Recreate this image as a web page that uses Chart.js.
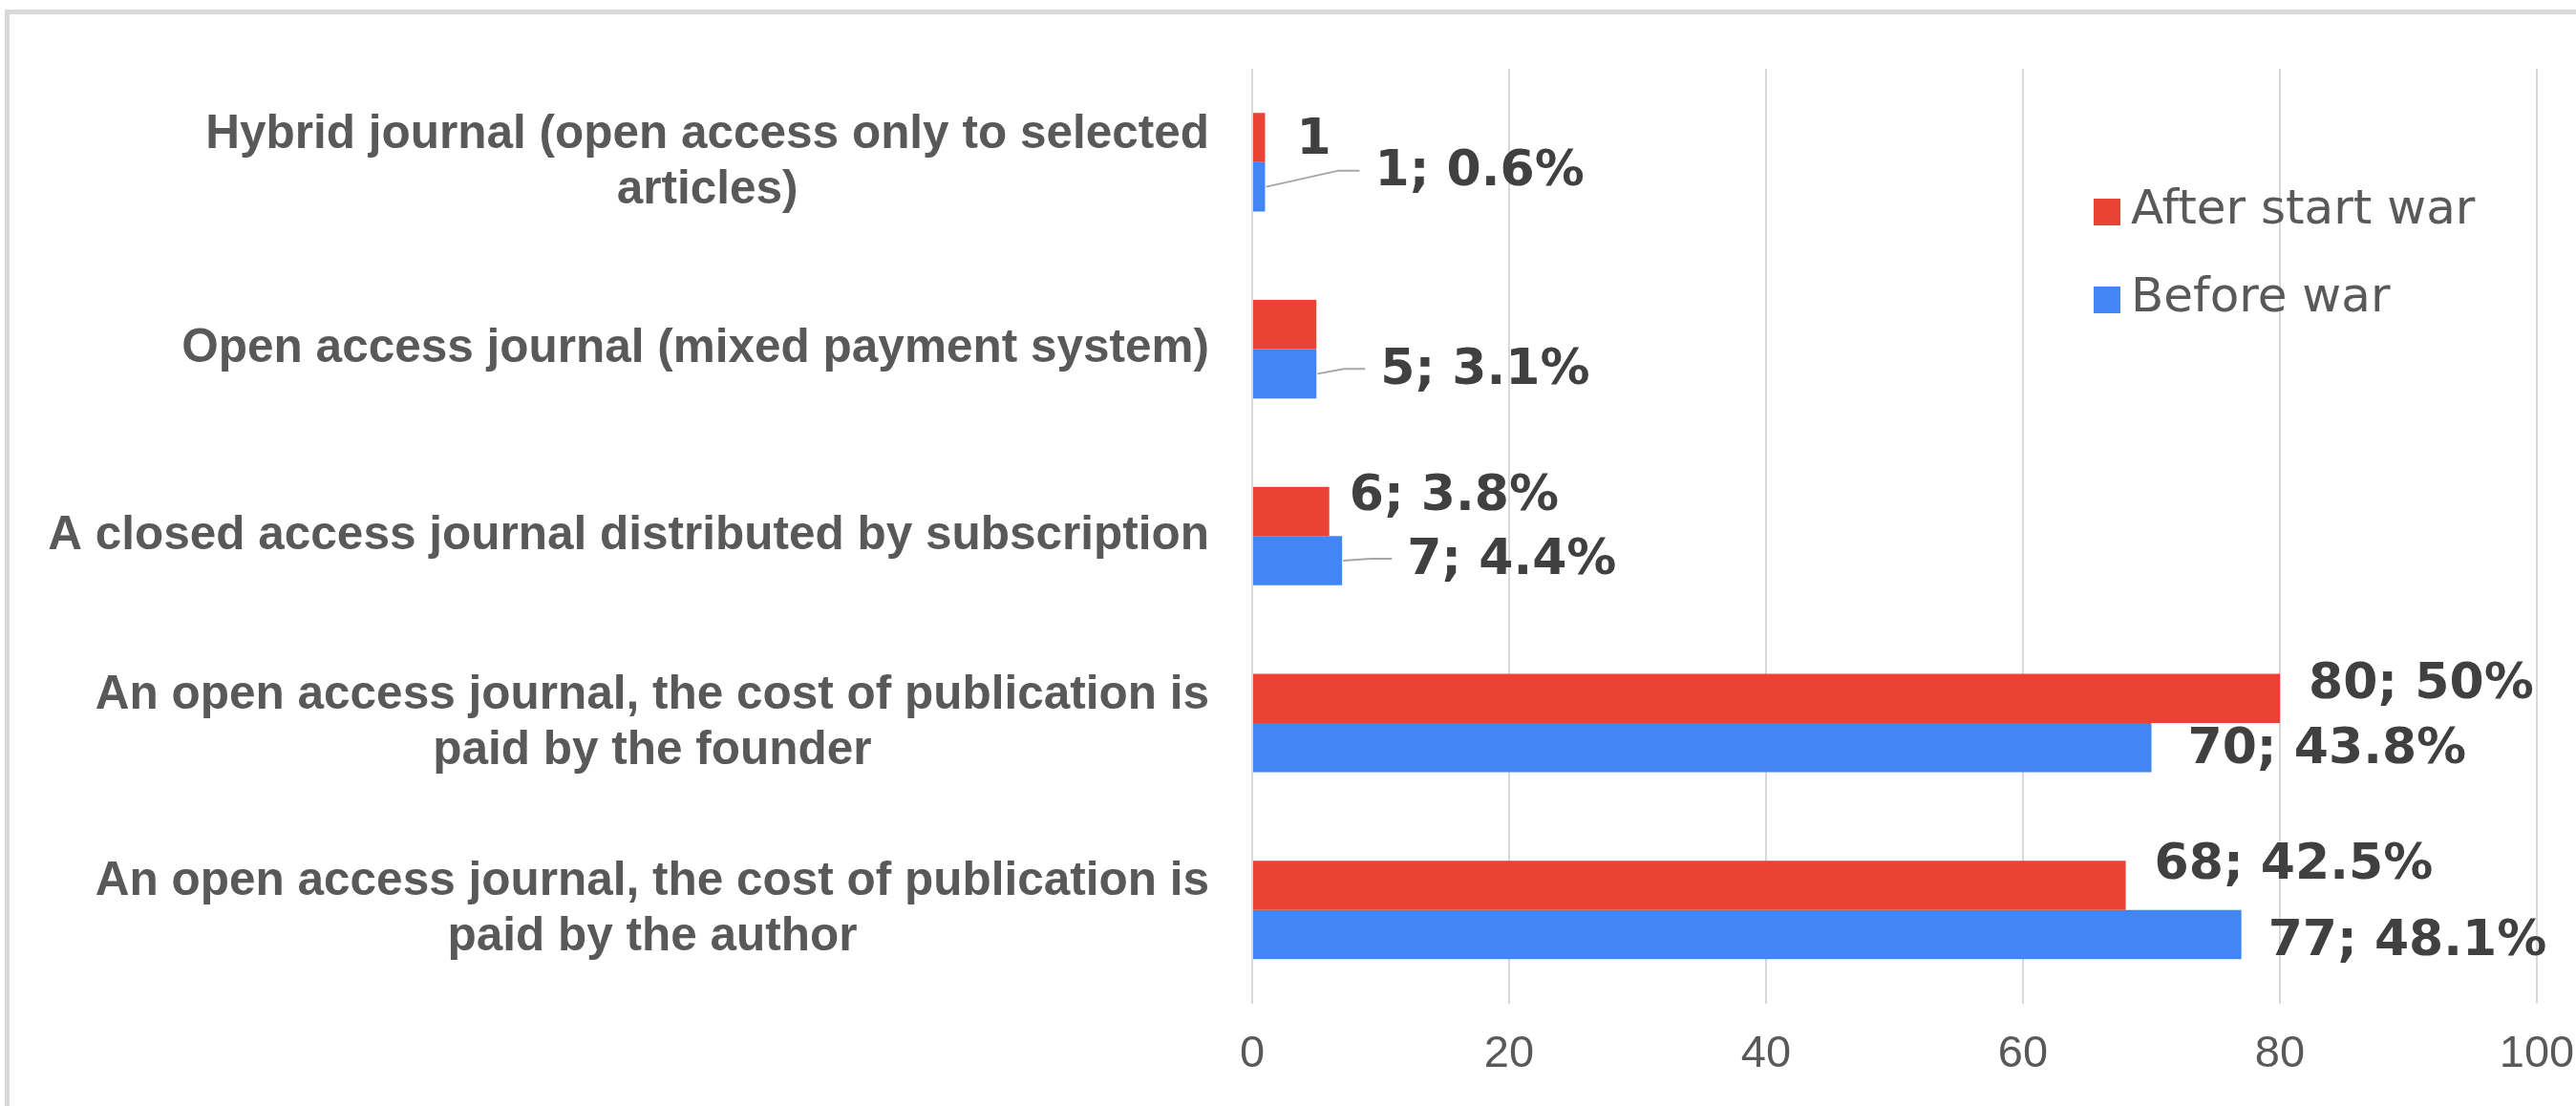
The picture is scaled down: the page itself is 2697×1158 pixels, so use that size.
<!DOCTYPE html>
<html>
<head>
<meta charset="utf-8">
<script src="https://cdn.jsdelivr.net/npm/chart.js@4.4.1/dist/chart.umd.min.js"></script>
<style>
  html, body { margin: 0; padding: 0; background: #fff; }
  #wrap { width: 2697px; height: 1158px; position: relative; }
</style>
</head>
<body>
<div id="wrap"><canvas id="chart"></canvas></div>
<script>
// categories, top to bottom (each entry = lines of the label)
const categories = [
    ['Hybrid journal (open access only to selected', 'articles)'],
    ['Open access journal (mixed payment system)'],
    ['A closed access journal distributed by subscription'],
    ['An open access journal, the cost of publication is', 'paid by the founder'],
    ['An open access journal, the cost of publication is', 'paid by the author']
]
const seriesNames = ['After start war', 'Before war']
const afterWar = [1, 5, 6, 80, 68]
const beforeWar = [1, 5, 7, 70, 77]
const afterLabels = ['1', '', '6; 3.8%', '80; 50%', '68; 42.5%']
const beforeLabels = ['1; 0.6%', '5; 3.1%', '7; 4.4%', '70; 43.8%', '77; 48.1%']
const xTicks = [0, 20, 40, 60, 80, 100]

const colors = ['#EA4335', '#4285F4']

// label nudges from the bar end [dx, dy, leaderLine]
const nudges = [
    [[33, 3], null, [21, -15], [30, -14], [30, -20]],
    [[115, -15, true], [67, -3, true], [68, 0, true], [38, 3], [28, 8]]
]

const refPlugin = {
    id: 'refPlugin',
    beforeDraw(chart) {
        const ctx = chart.ctx
        ctx.save()
        ctx.fillStyle = '#fff'
        ctx.fillRect(0, 0, chart.width, chart.height)
        ctx.fillStyle = '#d9d9d9'
        ctx.fillRect(5, 10, chart.width, 5)
        ctx.fillRect(5, 10, 5, chart.height)
        ctx.restore()
    },
    afterDraw(chart) {
        const ctx = chart.ctx
        const area = chart.chartArea
        const yScale = chart.scales.y
        const xScale = chart.scales.x
        ctx.save()

        // category labels: block right aligned, lines centred within block
        ctx.font = 'bold 49.5px "Liberation Sans"'
        ctx.fillStyle = '#595959'
        ctx.textBaseline = 'middle'
        ctx.textAlign = 'center'
        categories.forEach((lines, i) => {
            const yc = yScale.getPixelForTick(i)
            const widest = Math.max(...lines.map(l => ctx.measureText(l).width))
            const cx = area.left - 45 - widest / 2
            lines.forEach((l, j) => {
                ctx.fillText(l, cx, yc + (j - (lines.length - 1) / 2) * 58)
            })
        })

        // data labels
        const labelSets = [afterLabels, beforeLabels]
        ctx.font = 'bold 52px "DejaVu Sans"'
        ctx.textAlign = 'left'
        chart.data.datasets.forEach((ds, di) => {
            const meta = chart.getDatasetMeta(di)
            meta.data.forEach((bar, i) => {
                const txt = labelSets[di][i]
                const nd = nudges[di][i]
                if (!txt || !nd) return
                const p = bar.getProps(['x', 'y'], true)
                const tx = p.x + nd[0]
                const ty = p.y + nd[1]
                if (nd[2]) {
                    ctx.strokeStyle = '#a6a6a6'
                    ctx.lineWidth = 2
                    ctx.beginPath()
                    ctx.moveTo(p.x + 1, p.y)
                    ctx.lineTo(Math.max(p.x + 1, tx - 38), ty - 2)
                    ctx.lineTo(tx - 16, ty - 2)
                    ctx.stroke()
                }
                ctx.fillStyle = '#404040'
                ctx.fillText(txt, tx, ty)
            })
        })

        // legend inside the plot area
        const legRight = xScale.getPixelForValue(xTicks[xTicks.length - 1])
        ctx.font = '50px "DejaVu Sans"'
        chart.data.datasets.forEach((ds, di) => {
            const top = area.top + 136 + di * 92
            ctx.fillStyle = ds.backgroundColor
            ctx.fillRect(legRight - 464, top, 28, 28)
            ctx.fillStyle = '#595959'
            ctx.fillText(ds.label, legRight - 425, top + 13)
        })
        ctx.restore()
    }
}

const ctx = document.getElementById('chart')
new Chart(ctx, {
    type: 'bar',
    data: {
        labels: categories.map(c => c.join(' ')),
        datasets: [
            { label: seriesNames[0], data: afterWar, backgroundColor: colors[0] },
            { label: seriesNames[1], data: beforeWar, backgroundColor: colors[1] }
        ]
    },
    options: {
        indexAxis: 'y',
        responsive: true,
        maintainAspectRatio: false,
        animation: false,
        devicePixelRatio: 1,
        layout: { padding: { left: 1311, top: 72, right: 41, bottom: 0 } },
        datasets: { bar: { categoryPercentage: 0.527, barPercentage: 1.0 } },
        plugins: {
            legend: { display: false },
            tooltip: { enabled: false }
        },
        scales: {
            y: { display: false },
            x: {
                min: xTicks[0],
                max: xTicks[xTicks.length - 1],
                border: { display: false },
                grid: { color: '#d9d9d9', lineWidth: 2, drawTicks: false },
                afterBuildTicks: axis => { axis.ticks = xTicks.map(v => ({ value: v })) },
                // let the "100" label hang past the plot edge like the original
                afterFit: axis => { axis.paddingRight = 0; axis.paddingLeft = 0 },
                ticks: {
                    padding: 25.5,
                    color: '#595959',
                    font: { family: 'Liberation Sans', size: 47 }
                }
            }
        }
    },
    plugins: [refPlugin]
})
</script>
</body>
</html>
